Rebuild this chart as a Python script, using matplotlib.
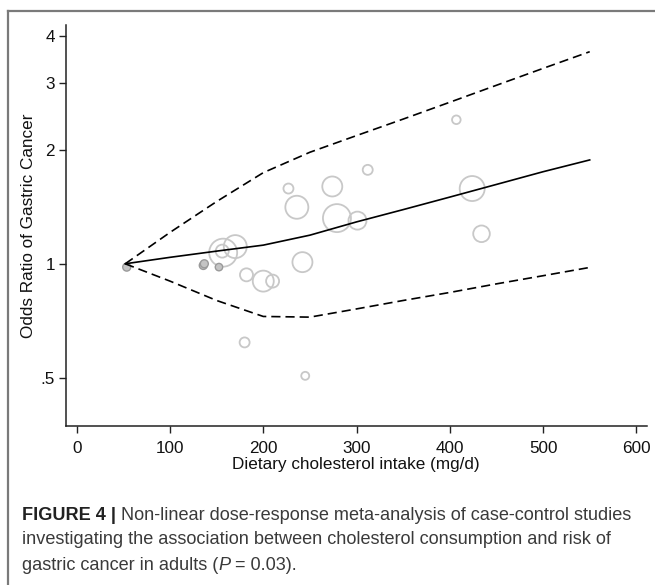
import numpy as np
import matplotlib.pyplot as plt
from matplotlib.lines import Line2D
import matplotlib.ticker as mticker

# fitted curve and 95% CI (odds ratio vs dose)
dose = [52, 100, 150, 200, 250, 300, 350, 400, 450, 500, 550]
or_fit = [1.00, 1.04, 1.08, 1.12, 1.19, 1.29, 1.39, 1.50, 1.62, 1.75, 1.88]
or_upper = [1.00, 1.21, 1.46, 1.74, 1.97, 2.18, 2.41, 2.67, 2.96, 3.28, 3.63]
or_lower = [1.00, 0.90, 0.80, 0.726, 0.723, 0.76, 0.80, 0.84, 0.885, 0.93, 0.978]

# study points (open circles), radius in px ~ study weight
study_x = [157, 156, 170, 182, 200, 210, 242, 227, 236, 274, 279, 301, 312, 407, 424, 434, 180, 245]
study_or = [1.07, 1.08, 1.11, 0.935, 0.90, 0.90, 1.01, 1.58, 1.41, 1.60, 1.32, 1.30, 1.77, 2.40, 1.58, 1.20, 0.62, 0.506]
study_r = [14, 6.5, 11.5, 6.5, 10.5, 6.5, 10, 5, 11.5, 10, 14, 9, 5, 4.3, 12.5, 8.3, 5, 4]

# reference points (filled)
ref_x = [53.6, 135.7, 136.8, 152.5]
ref_or = [0.98, 0.99, 1.00, 0.98]
ref_r = [4, 4, 4, 3.7]

W, H = 655, 585
fig = plt.figure(figsize=(W / 100, H / 100), dpi=100)
fig.patch.set_facecolor('white')

# outer frame of the figure panel
fig.add_artist(Line2D([7.5 / W, 7.5 / W], [0, 1 - 10.5 / H], color='#7a7a7a', lw=1.6, transform=fig.transFigure))
fig.add_artist(Line2D([7.5 / W, 1], [1 - 10.5 / H, 1 - 10.5 / H], color='#7a7a7a', lw=1.6, transform=fig.transFigure))

ax = fig.add_axes([66 / W, 1 - 426 / H, (646.6 - 66) / W, (426 - 25) / H])
ax.set_yscale('log')
ax.set_xlim(-11.5, 611)
ax.set_ylim(0.373, 4.27)

def size(r):
    return (2 * r * 0.72) ** 2

ax.scatter(study_x, study_or, s=[size(r) for r in study_r], facecolors='none',
           edgecolors='#c8c8c8', linewidths=1.3, zorder=2)
ax.scatter(ref_x, ref_or, s=[size(r) for r in ref_r], facecolors='#c4c4c4',
           edgecolors='#9a9a9a', linewidths=1.0, zorder=2)

ax.plot(dose, or_fit, color='black', lw=1.2, zorder=3)
ax.plot(dose, or_upper, color='black', lw=1.2, ls=(0, (5.5, 3)), zorder=3)
ax.plot(dose, or_lower, color='black', lw=1.2, ls=(0, (5.5, 3)), zorder=3)

ax.set_yticks([0.5, 1, 2, 3, 4])
ax.yaxis.set_major_formatter(mticker.FixedFormatter(['.5', '1', '2', '3', '4']))
ax.yaxis.set_minor_locator(mticker.NullLocator())
ax.set_xticks([0, 100, 200, 300, 400, 500, 600])

for s in ['top', 'right']:
    ax.spines[s].set_visible(False)
for s in ['left', 'bottom']:
    ax.spines[s].set_linewidth(1.1)
    ax.spines[s].set_color('#222222')
ax.tick_params(direction='out', length=5, width=1.0, color='#222222', labelsize=12.3,
               labelcolor='#111111', pad=3)
ax.tick_params(axis='x', pad=5.5)
for lab in ax.get_xticklabels() + ax.get_yticklabels():
    lab.set_family('Liberation Sans')

ax.set_xlabel('Dietary cholesterol intake (mg/d)', fontsize=12.3, family='Liberation Sans',
              color='#111111', labelpad=1)
ax.set_ylabel('Odds Ratio of Gastric Cancer', fontsize=12.3, family='Liberation Sans',
              color='#111111', labelpad=3)

# caption, drawn piece by piece so bold / italic parts sit inline
cap_font = 'Liberation Sans'
cap_size = 13.1
cap_color = '#3a3a3a'
lines = [
    [('FIGURE 4 | ', 'bold', 'normal', '#222222'),
     ('Non-linear dose-response meta-analysis of case-control studies', 'normal', 'normal', cap_color)],
    [('investigating the association between cholesterol consumption and risk of', 'normal', 'normal', cap_color)],
    [('gastric cancer in adults (', 'normal', 'normal', cap_color),
     ('P', 'normal', 'italic', cap_color),
     (' = 0.03).', 'normal', 'normal', cap_color)],
]
line_y = [515, 540, 566]
fig.canvas.draw()
renderer = fig.canvas.get_renderer()
for pieces, y in zip(lines, line_y):
    x = 22
    for txt, weight, style, col in pieces:
        t = fig.text(x / W, 1 - y / H, txt, fontsize=cap_size, family=cap_font, weight=weight,
                     style=style, color=col, va='center', ha='left')
        bb = t.get_window_extent(renderer)
        x += bb.width

fig.savefig('out.png', dpi=100)
